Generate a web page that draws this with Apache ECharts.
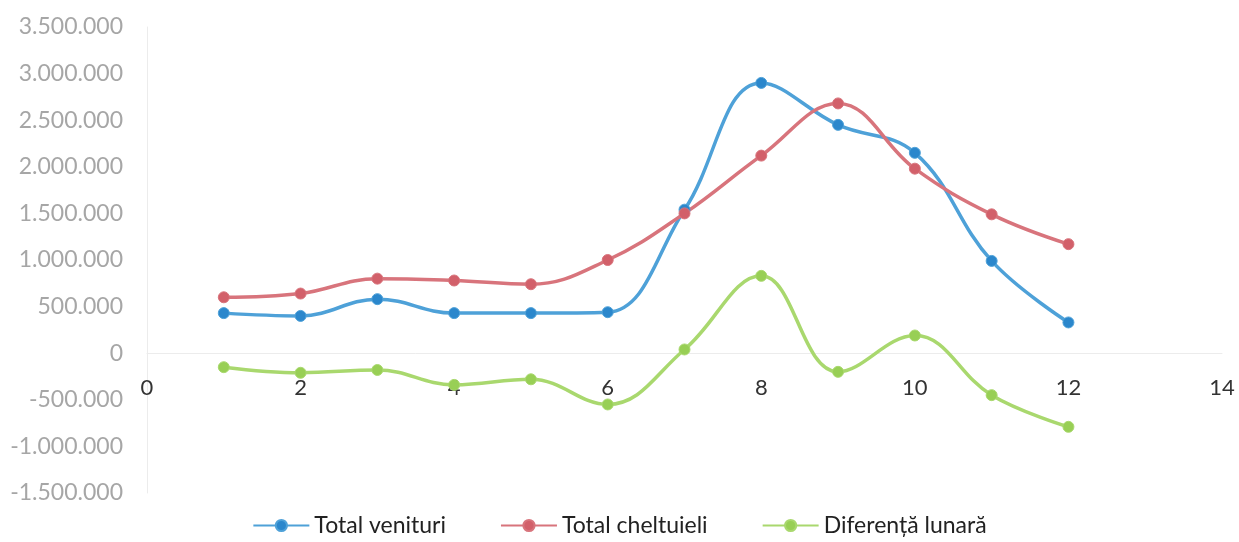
<!DOCTYPE html>
<html>
<head>
<meta charset="utf-8">
<script src="https://cdn.jsdelivr.net/npm/echarts@6/dist/echarts.min.js"></script>
<style>html,body{margin:0;padding:0;background:#fff}#c{width:1239px;height:542px}</style>
</head>
<body>
<div id="c"></div>
<script>
const months = [1,2,3,4,5,6,7,8,9,10,11,12];
const venituri = [430000,400000,580000,430000,430000,440000,1540000,2900000,2450000,2150000,990000,330000];
const cheltuieli = [600000,640000,800000,780000,740000,1000000,1500000,2120000,2680000,1980000,1490000,1170000];
const diferenta = [-150000,-210000,-180000,-340000,-280000,-550000,40000,830000,-200000,190000,-450000,-790000];
const seriesNames = ['Total venituri','Total cheltuieli','Diferență lunară'];

function fmt(v){
  const s = Math.abs(v).toString().replace(/\B(?=(\d{3})+(?!\d))/g,'.');
  return (v<0?'-':'') + s;
}
const pair = arr => months.map((m,i)=>[m,arr[i]]);

const chart = echarts.init(document.getElementById('c'));
const mk = (name, data, line, mark) => ({
  name, type:'line', data: pair(data), smooth:0.4,
  symbol:'circle', symbolSize:11,
  lineStyle:{color:line,width:3.5},
  itemStyle:{color:mark,borderColor:line,borderWidth:1},
  emphasis:{disabled:true}
});
const gridTop = 27, gridBottom = 49, H = 542;
const yMin = -1500000, yMax = 3500000;
const plotH = H - gridTop - gridBottom;
const zeroOffset = -Math.round(plotH * (0 - yMin) / (yMax - yMin));
chart.setOption({
  animation:false,
  textStyle:{fontFamily:'Lato'},
  grid:{left:147,right:17,top:gridTop,bottom:gridBottom,containLabel:false},
  legend:{
    bottom:0, left:'center', itemWidth:56, itemHeight:14, itemGap:54,
    textStyle:{fontSize:23,color:'#222',fontFamily:'Lato'},
    data:seriesNames
  },
  xAxis:{
    type:'value', min:0, max:14, interval:2,
    position:'bottom', offset: zeroOffset,
    axisLine:{onZero:false,lineStyle:{color:'#ececec',width:1}},
    axisTick:{show:false},
    splitLine:{show:false},
    axisLabel:{color:'#333',fontSize:22,margin:24}
  },
  yAxis:{
    type:'value', min:yMin, max:yMax, interval:500000,
    axisLine:{show:true,lineStyle:{color:'#ececec'}},
    axisTick:{show:false},
    splitLine:{show:false},
    axisLabel:{color:'#a6a6a6',fontSize:23,margin:24,formatter:fmt}
  },
  series:[
    mk(seriesNames[0], venituri, '#4ea1d8', '#2b87cc'),
    mk(seriesNames[1], cheltuieli, '#d8747c', '#d2606a'),
    mk(seriesNames[2], diferenta, '#a9d86e', '#98cf55')
  ]
});
</script>
</body>
</html>
